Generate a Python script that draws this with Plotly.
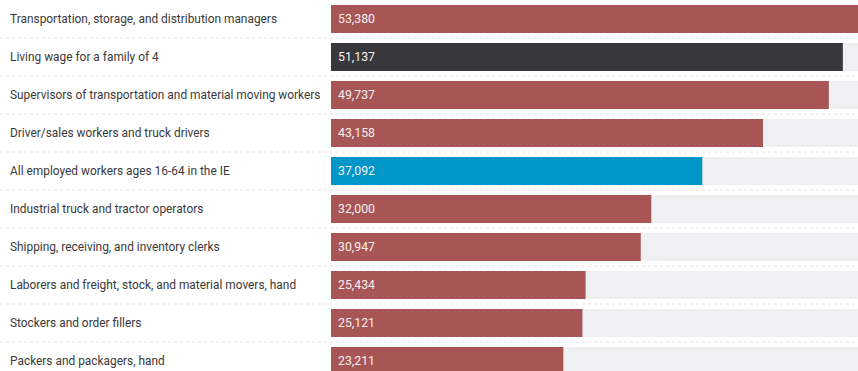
import plotly.graph_objects as go

occupations = [
    "Transportation, storage, and distribution managers",
    "Living wage for a family of 4",
    "Supervisors of transportation and material moving workers",
    "Driver/sales workers and truck drivers",
    "All employed workers ages 16-64 in the IE",
    "Industrial truck and tractor operators",
    "Shipping, receiving, and inventory clerks",
    "Laborers and freight, stock, and material movers, hand",
    "Stockers and order fillers",
    "Packers and packagers, hand",
]
wages = [53380, 51137, 49737, 43158, 37092, 32000, 30947, 25434, 25121, 23211]
kinds = ["job", "living", "job", "job", "all", "job", "job", "job", "job", "job"]

palette = {"job": "#a85555", "living": "#38373c", "all": "#0096c8"}
bar_colors = [palette[k] for k in kinds]

W, H = 858, 371
left = 331
x_max = 52650
row_px = 38
n = len(occupations)
y_top = -0.5
y_bottom = y_top + H / row_px

idx = list(range(n))

fig = go.Figure()
# light background track behind each bar
fig.add_trace(go.Bar(
    y=idx, x=[x_max * 1.05] * n, orientation="h",
    marker=dict(color="#f0f0f2", line=dict(width=0)),
    hoverinfo="skip", showlegend=False,
))
fig.add_trace(go.Bar(
    y=idx, x=wages, orientation="h",
    marker=dict(color=bar_colors, line=dict(width=0)),
    showlegend=False,
))

annotations = []
shapes = []
plot_w = W - left
for i, (name, v) in enumerate(zip(occupations, wages)):
    annotations.append(dict(
        x=-(left - 8) / plot_w, xref="paper", y=i, yref="y",
        text=name, showarrow=False, xanchor="left", yanchor="middle",
        font=dict(family="Roboto", size=11.9, color="#3a3a3a"),
    ))
    annotations.append(dict(
        x=0, xref="x", y=i, yref="y", xshift=5,
        text=f"{v:,}", showarrow=False, xanchor="left", yanchor="middle",
        font=dict(family="Roboto", size=12.3, color="#f7f0f0"),
    ))
    if i < n - 1:
        shapes.append(dict(
            type="line", xref="paper", yref="y",
            x0=-left / plot_w, x1=1, y0=i + 0.5, y1=i + 0.5,
            line=dict(color="#e2e2e2", width=1, dash="dot"),
        ))

fig.update_layout(
    width=W, height=H,
    margin=dict(l=left, r=0, t=0, b=0),
    paper_bgcolor="white", plot_bgcolor="white",
    barmode="overlay", bargap=10 / 38,
    xaxis=dict(range=[0, x_max], visible=False, fixedrange=True),
    yaxis=dict(range=[y_bottom, y_top], visible=False, fixedrange=True),
    annotations=annotations, shapes=shapes,
)

fig.write_html("out.html")
